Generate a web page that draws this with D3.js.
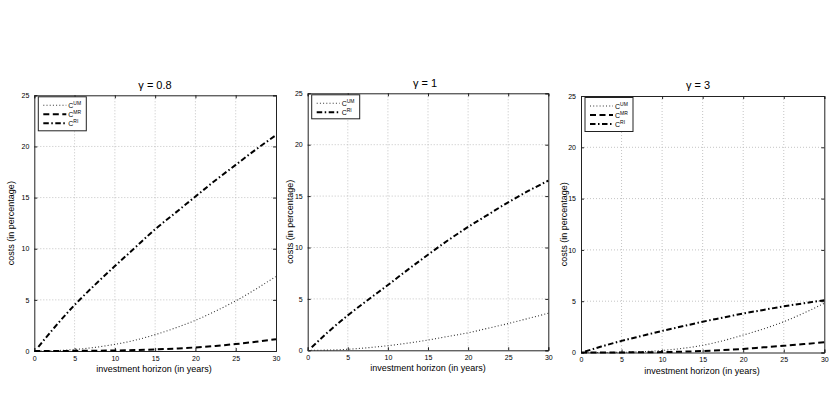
<!DOCTYPE html>
<html><head><meta charset="utf-8">
<script src="https://cdn.jsdelivr.net/npm/d3@7"></script>
<style>body{margin:0;background:#fff}svg{display:block}text{font-family:"Liberation Sans",Arial,sans-serif;fill:#000}</style>
</head><body><svg id="c" width="830" height="396"></svg>
<script>
const horizons = [0.5, 2.5, 5, 7.5, 10, 12.5, 15, 17.5, 20, 22.5, 25, 27.5, 30];
const xTicks = [0, 5, 10, 15, 20, 25, 30];
const yTicks = [0, 5, 10, 15, 20, 25];
const titles = ["γ = 0.8", "γ = 1", "γ = 3"];
// panel 1 (gamma 0.8)
const um1 = [0.0, 0.03, 0.15, 0.35, 0.65, 1.05, 1.6, 2.25, 3.0, 3.9, 4.9, 6.05, 7.3];
const mr1 = [0.0, 0.0, 0.01, 0.03, 0.05, 0.09, 0.15, 0.24, 0.35, 0.5, 0.68, 0.9, 1.15];
const ri1 = [0.4, 2.3, 4.5, 6.45, 8.3, 10.1, 11.9, 13.5, 15.1, 16.7, 18.2, 19.7, 21.1];
// panel 2 (gamma 1)
const um2 = [0.0, 0.02, 0.1, 0.25, 0.45, 0.7, 1.0, 1.35, 1.7, 2.15, 2.6, 3.1, 3.6];
const ri2 = [0.3, 1.75, 3.4, 4.9, 6.35, 7.85, 9.3, 10.7, 12.0, 13.2, 14.4, 15.5, 16.5];
// panel 3 (gamma 3)
const um3 = [0.0, 0.0, 0.02, 0.08, 0.2, 0.4, 0.7, 1.15, 1.7, 2.3, 3.0, 3.85, 4.8];
const mr3 = [0.0, 0.0, 0.01, 0.02, 0.04, 0.08, 0.15, 0.24, 0.35, 0.5, 0.65, 0.82, 1.0];
const ri3 = [0.1, 0.58, 1.13, 1.62, 2.1, 2.55, 3.0, 3.4, 3.8, 4.15, 4.5, 4.8, 5.1];

const styles = {
  UM: {stroke: "#333", width: 1.1, dash: "1,2.2"},
  MR: {stroke: "#000", width: 2, dash: "6,3.5"},
  RI: {stroke: "#000", width: 2, dash: "5.5,2.5,1.5,2.5"}
};

const panels = [
  {title: titles[0], box: [34.3, 276, 95.3, 351], series: [["UM", um1], ["MR", mr1], ["RI", ri1]], titleX: 155, titleY: 89, ylabX: 11, xlabX: 154},
  {title: titles[1], box: [307.7, 548.3, 93.3, 350.3], series: [["UM", um2], ["RI", ri2]], titleX: 425, titleY: 87.3, ylabX: 290, xlabX: 428},
  {title: titles[2], box: [581, 824.3, 96, 352.5], series: [["UM", um3], ["MR", mr3], ["RI", ri3]], titleX: 698, titleY: 88.5, ylabX: 564, xlabX: 702}
];

const svg = d3.select("#c");

panels.forEach(p => {
  const [l, r, t, b] = p.box;
  const x = d3.scaleLinear().domain([0, 30]).range([l, r]);
  const y = d3.scaleLinear().domain([0, 25]).range([b, t]);
  const g = svg.append("g");
  // grid
  g.selectAll(".gx").data(xTicks.slice(1, -1)).join("line")
    .attr("x1", d => x(d)).attr("x2", d => x(d)).attr("y1", t).attr("y2", b)
    .attr("stroke", "#b5b5b5").attr("stroke-width", 0.8).attr("stroke-dasharray", "1,2");
  g.selectAll(".gy").data(yTicks.slice(1, -1)).join("line")
    .attr("y1", d => y(d)).attr("y2", d => y(d)).attr("x1", l).attr("x2", r)
    .attr("stroke", "#b5b5b5").attr("stroke-width", 0.8).attr("stroke-dasharray", "1,2");
  // axes (ticks inside)
  const ax = g.append("g").attr("transform", `translate(0,${b})`)
    .call(d3.axisBottom(x).tickValues(xTicks).tickSize(-3).tickPadding(5));
  const axT = g.append("g").attr("transform", `translate(0,${t})`)
    .call(d3.axisTop(x).tickValues(xTicks).tickSize(-3).tickFormat(""));
  const ay = g.append("g").attr("transform", `translate(${l},0)`)
    .call(d3.axisLeft(y).tickValues(yTicks).tickSize(-3).tickPadding(5));
  const ayR = g.append("g").attr("transform", `translate(${r},0)`)
    .call(d3.axisRight(y).tickValues(yTicks).tickSize(-3).tickFormat(""));
  [ax, axT, ay, ayR].forEach(a => {
    a.select(".domain").attr("stroke", "#222").attr("stroke-width", 1);
    a.selectAll(".tick line").attr("stroke", "#222");
    a.selectAll("text").attr("font-size", 7).attr("font-family", "Liberation Sans, Arial, sans-serif");
  });
  // lines
  const line = d3.line().x((d, i) => x(horizons[i])).y(d => y(d)).curve(d3.curveMonotoneX);
  p.series.forEach(([k, vals]) => {
    const s = styles[k];
    const pts = vals.slice();
    let path;
    if (k === "RI") {
      path = line(pts);
    } else {
      // UM and MR begin at horizon 0
      const l0 = d3.line().x(d => x(d[0])).y(d => y(d[1])).curve(d3.curveMonotoneX);
      path = l0([[0, 0]].concat(horizons.slice(1).map((h, i) => [h, pts[i + 1]])));
    }
    g.append("path").attr("d", path).attr("fill", "none")
      .attr("stroke", s.stroke).attr("stroke-width", s.width).attr("stroke-dasharray", s.dash);
  });
  // title
  g.append("text").attr("x", p.titleX).attr("y", p.titleY).attr("text-anchor", "middle")
    .attr("font-size", 11).text(p.title);
  // axis labels
  g.append("text").attr("x", p.xlabX).attr("y", b + 21).attr("text-anchor", "middle")
    .attr("font-size", 9).text("investment horizon (in years)");
  g.append("text").attr("transform", `translate(${p.ylabX + 3},${(t + b) / 2}) rotate(-90)`)
    .attr("text-anchor", "middle").attr("font-size", 9).text("costs (in percentage)");
  // legend
  const n = p.series.length;
  const lx = l + 4, ly = t + 1.5, lw = 48, lh = n === 3 ? 34 : 24;
  const lg = g.append("g");
  lg.append("rect").attr("x", lx).attr("y", ly).attr("width", lw).attr("height", lh)
    .attr("fill", "#fff").attr("stroke", "#222").attr("stroke-width", 1);
  p.series.forEach(([k], i) => {
    const s = styles[k];
    const yy = ly + 8.5 + i * 9;
    lg.append("line").attr("x1", lx + 5).attr("x2", lx + 28).attr("y1", yy).attr("y2", yy)
      .attr("stroke", s.stroke).attr("stroke-width", s.width).attr("stroke-dasharray", s.dash);
    const tx = lg.append("text").attr("x", lx + 30).attr("y", yy + 2.5).attr("font-size", 7);
    tx.append("tspan").text("C");
    tx.append("tspan").attr("dy", -3).attr("font-size", 5).text(k);
  });
});
</script></body></html>
